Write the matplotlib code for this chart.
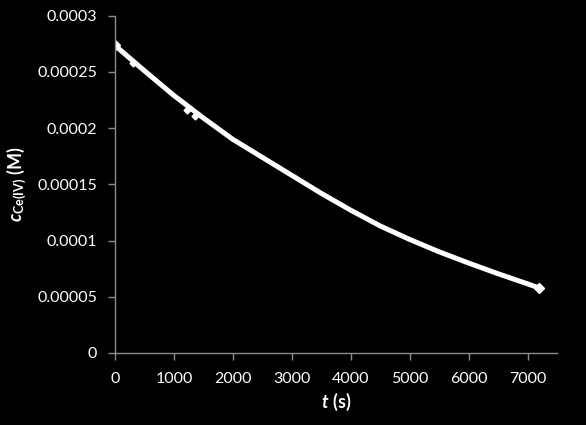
import matplotlib
matplotlib.use("Agg")
import matplotlib.pyplot as plt

# time (s) and Ce(IV) concentration (M)
t_s = [0, 500, 1000, 1500, 2000, 2500, 3000, 3500, 4000, 4500,
       5000, 5500, 6000, 6500, 7000, 7200]
c_M = [2.735e-4, 2.51e-4, 2.29e-4, 2.09e-4, 1.90e-4, 1.74e-4, 1.58e-4,
       1.42e-4, 1.27e-4, 1.13e-4, 1.01e-4, 0.90e-4, 0.80e-4, 0.705e-4,
       0.615e-4, 0.578e-4]
# a few scattered readings lying just off the main trace
stray_t = [300, 1230, 1355]
stray_c = [2.575e-4, 2.165e-4, 2.11e-4]

x_ticks = [0, 1000, 2000, 3000, 4000, 5000, 6000, 7000]
y_ticks = [0, 0.00005, 0.0001, 0.00015, 0.0002, 0.00025, 0.0003]
y_tick_labels = ["0", "0.00005", "0.0001", "0.00015", "0.0002", "0.00025", "0.0003"]

plt.rcParams['font.family'] = ['Lato', 'DejaVu Sans']
plt.rcParams['mathtext.fontset'] = 'custom'
plt.rcParams['mathtext.rm'] = 'Lato'
plt.rcParams['mathtext.bf'] = 'Lato:bold'
plt.rcParams['mathtext.it'] = 'Lato:italic'
plt.rcParams['mathtext.bfit'] = 'Lato:italic:bold'

fig = plt.figure(figsize=(5.86, 4.25), dpi=100, facecolor='black')
ax = fig.add_axes([115/586, 1-353/425, (557-115)/586, (353-15.7)/425])
ax.set_facecolor('black')

ax.plot(t_s, c_M, color='white', lw=3.6, solid_capstyle='round',
        solid_joinstyle='round')
ax.plot(stray_t, stray_c, linestyle='none', marker='D', ms=3.5,
        mec='white', mfc='white')
ax.plot([t_s[0], t_s[-1]], [c_M[0], c_M[-1]], linestyle='none', marker='D',
        ms=5, mec='white', mfc='white')

ax.set_xlim(0, 7500)
ax.set_ylim(0, 0.0003)
ax.set_xticks(x_ticks)
ax.set_xticklabels([str(v) for v in x_ticks])
ax.set_yticks(y_ticks)
ax.set_yticklabels(y_tick_labels)

for side in ['top', 'right']:
    ax.spines[side].set_visible(False)
for side in ['left', 'bottom']:
    ax.spines[side].set_color('#8c8c8c')
    ax.spines[side].set_linewidth(1.0)

ax.tick_params(axis='both', colors='#8c8c8c', labelcolor='white',
               labelsize=11.5, direction='out', length=5, width=1)
ax.tick_params(axis='x', pad=9)
ax.tick_params(axis='y', pad=8)

ax.set_xlabel(r'$\mathbfit{t}\ \mathbf{(s)}$', color='white', fontsize=13, labelpad=3)
ax.set_ylabel(r'$\mathbfit{c}_{\mathbf{Ce(IV)}}\ \mathbf{(M)}$', color='white',
              fontsize=13, labelpad=6)

fig.savefig('out.png', dpi=100, facecolor='black')
